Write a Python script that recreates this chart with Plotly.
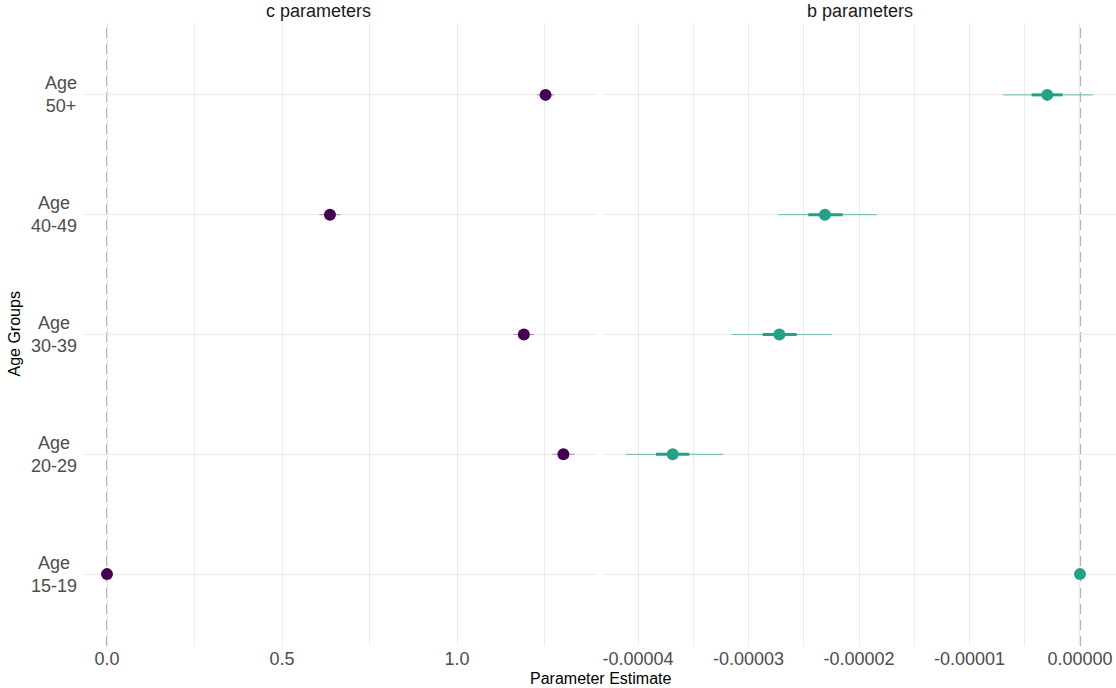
import plotly.graph_objects as go

# ---------------- data ----------------
groups = ["Age 15-19", "Age 20-29", "Age 30-39", "Age 40-49", "Age 50+"]
group_labels = ["Age<br>15-19", "Age<br>20-29", "Age<br>30-39", "Age<br>40-49", "Age<br>50+"]

c_est = [0.0, 1.304, 1.191, 0.637, 1.253]
c_lo_thin = [0.0, 1.272, 1.161, 0.607, 1.228]
c_hi_thin = [0.0, 1.336, 1.221, 0.667, 1.278]
c_lo_thick = [0.0, 1.291, 1.179, 0.625, 1.243]
c_hi_thick = [0.0, 1.317, 1.203, 0.649, 1.263]

b_est = [0.0, -3.686e-5, -2.721e-5, -2.308e-5, -2.96e-6]
b_lo_thin = [0.0, -4.109e-5, -3.152e-5, -2.730e-5, -6.94e-6]
b_hi_thin = [0.0, -3.228e-5, -2.247e-5, -1.840e-5, 1.15e-6]
b_lo_thick = [0.0, -3.837e-5, -2.872e-5, -2.459e-5, -4.37e-6]
b_hi_thick = [0.0, -3.536e-5, -2.564e-5, -2.148e-5, -1.57e-6]

panel_titles = ["c parameters", "b parameters"]
c_tickvals = [0.0, 0.5, 1.0]
c_ticktext = ["0.0", "0.5", "1.0"]
c_minor = [0.25, 0.75, 1.25]
b_tickvals = [-4e-5, -3e-5, -2e-5, -1e-5, 0.0]
b_ticktext = ["-0.00004", "-0.00003", "-0.00002", "-0.00001", "0.00000"]
b_minor = [-4.5e-5, -3.5e-5, -2.5e-5, -1.5e-5, -0.5e-5]
reference_value = 0.0

x_title = "Parameter Estimate"
y_title = "Age Groups"

# ---------------- styles ----------------
PURPLE = "#440154"
PURPLE_LIGHT = "rgba(68,1,84,0.35)"
TEAL = "#21A185"
TEAL_LIGHT = "rgba(33,161,133,0.55)"
GRID = "#EBEBEB"
FONT = "Liberation Sans, Arial, sans-serif"


def segs(lo, hi, cats):
    xs, ys = [], []
    for a, b, c in zip(lo, hi, cats):
        xs += [a, b, None]
        ys += [c, c, None]
    return xs, ys


fig = go.Figure()

for (lo_t, hi_t, lo_k, hi_k, est, light, solid, xa, ya) in [
    (c_lo_thin, c_hi_thin, c_lo_thick, c_hi_thick, c_est, PURPLE_LIGHT, PURPLE, "x", "y"),
    (b_lo_thin, b_hi_thin, b_lo_thick, b_hi_thick, b_est, TEAL_LIGHT, TEAL, "x2", "y2"),
]:
    xs, ys = segs(lo_t, hi_t, groups)
    fig.add_trace(go.Scatter(x=xs, y=ys, mode="lines", line=dict(color=light, width=1.2),
                             xaxis=xa, yaxis=ya, showlegend=False, hoverinfo="skip"))
    xs, ys = segs(lo_k, hi_k, groups)
    fig.add_trace(go.Scatter(x=xs, y=ys, mode="lines", line=dict(color=solid, width=3),
                             xaxis=xa, yaxis=ya, showlegend=False, hoverinfo="skip"))
    fig.add_trace(go.Scatter(x=est, y=groups, mode="markers",
                             marker=dict(color=solid, size=12, line=dict(width=0)),
                             xaxis=xa, yaxis=ya, showlegend=False))

# dashed reference lines at zero
for xr, yr in [("x", "y domain"), ("x2", "y2 domain")]:
    fig.add_shape(type="line", xref=xr, yref=yr, x0=reference_value, x1=reference_value,
                  y0=0, y1=1, layer="below",
                  line=dict(color="#B5B5B5", width=2.2, dash="10px,6px"))

d1 = (597 - 84) / 1032
d2 = (603 - 84) / 1032

tickfont = dict(family=FONT, size=18, color="#4D4D4D")
common_x = dict(showline=False, zeroline=False, ticks="", tickfont=tickfont,
                gridcolor=GRID, gridwidth=1)

fig.update_layout(
    width=1116, height=688,
    margin=dict(l=84, r=0, t=23, b=42),
    paper_bgcolor="white", plot_bgcolor="white",
    font=dict(family=FONT),
    xaxis=dict(domain=[0, d1], range=[-0.0657, 1.4], tickvals=c_tickvals, ticktext=c_ticktext,
               anchor="y", minor=dict(showgrid=True, gridcolor=GRID, gridwidth=0.6, tickvals=c_minor),
               **common_x),
    xaxis2=dict(domain=[d2, 1], range=[-4.317e-5, 0.326e-5], tickvals=b_tickvals, ticktext=b_ticktext,
                anchor="y2", minor=dict(showgrid=True, gridcolor=GRID, gridwidth=0.6, tickvals=b_minor),
                **common_x),
    yaxis=dict(type="category", categoryorder="array", categoryarray=groups, range=[-0.6, 4.6],
               anchor="x", showticklabels=False, showline=False, zeroline=False, ticks="",
               gridcolor=GRID, gridwidth=1),
    yaxis2=dict(type="category", categoryorder="array", categoryarray=groups, range=[-0.6, 4.6],
                anchor="x2", matches="y", showticklabels=False, showline=False, zeroline=False,
                ticks="", gridcolor=GRID, gridwidth=1),
)

annotations = []
for g, lab in zip(groups, group_labels):
    annotations.append(dict(xref="paper", yref="y", x=0, y=g, text=lab, showarrow=False,
                            xanchor="right", yanchor="middle", align="center", xshift=-5,
                            font=dict(family=FONT, size=18, color="#4D4D4D")))
for t, dom, sh in zip(panel_titles, [[0, d1], [d2, 1]], [-22, 0]):
    annotations.append(dict(xref="paper", yref="paper", x=(dom[0] + dom[1]) / 2, y=1, text=t,
                            showarrow=False, xanchor="center", yanchor="bottom", yshift=0, xshift=sh,
                            font=dict(family=FONT, size=18, color="#1A1A1A")))
annotations.append(dict(xref="paper", yref="paper", x=0.5, y=0, text=x_title, showarrow=False,
                        xanchor="center", yanchor="top", yshift=-22,
                        font=dict(family=FONT, size=16, color="#000000")))
annotations.append(dict(xref="paper", yref="paper", x=0, y=0.5, text=y_title, showarrow=False,
                        xanchor="center", yanchor="middle", xshift=-70, textangle=-90,
                        font=dict(family=FONT, size=16, color="#000000")))
fig.update_layout(annotations=annotations)

fig.write_html("out.html", config={"displayModeBar": False},
               post_script="document.body.style.margin='0';document.body.style.padding='0';"
                           "document.body.style.overflow='hidden';")
